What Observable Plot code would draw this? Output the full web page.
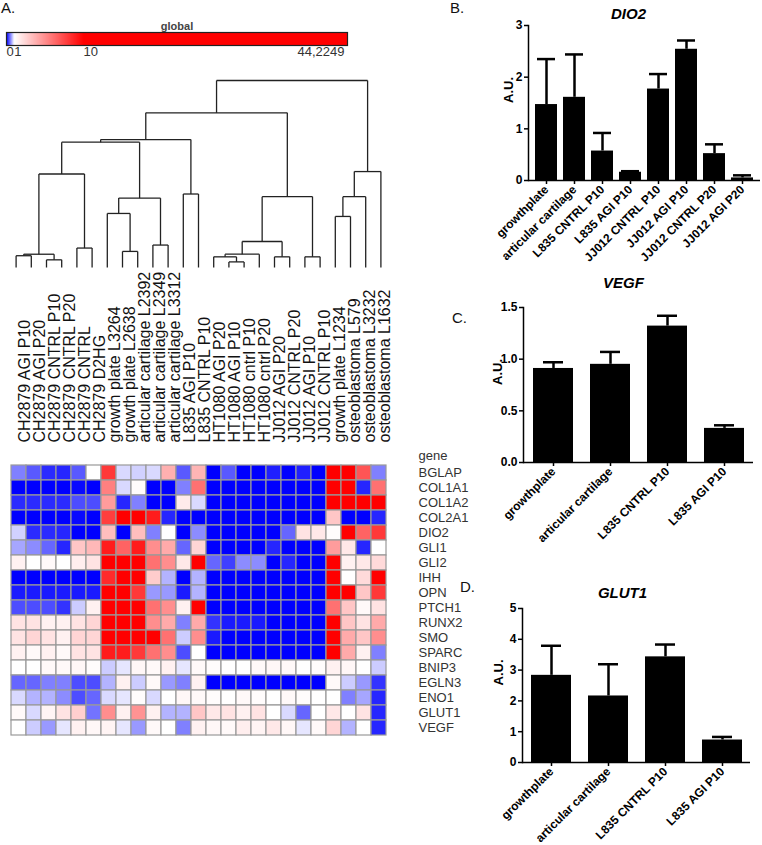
<!DOCTYPE html>
<html><head><meta charset="utf-8">
<script src="https://cdn.jsdelivr.net/npm/d3@7"></script>
<script src="https://cdn.jsdelivr.net/npm/@observablehq/plot@0.6"></script>
<style>
body{margin:0;background:#fff;}
#root{position:relative;width:762px;height:845px;overflow:hidden;font-family:"Liberation Sans",Arial,sans-serif;background:#fff;}
.abs{position:absolute;}
.letter{font-size:15px;color:#111;line-height:18px;}
</style></head><body><div id="root"></div>
<script>
// ---------- DATA ----------
const colorStops = [0, 1, 10, 44.2249];
const colorRange = ["#0000ff", "#ffffff", "#ff0000", "#ff0000"];
const colorTickVals = [0, 1, 10, 44.2249];
const colorTickText = ["0", "1", "10", "44,2249"];

const samples = ["CH2879 AGI P10","CH2879 AGI P20","CH2879 CNTRL P10","CH2879 CNTRL P20","CH2879 CNTRL","CH2879 D2HG",
  "growth plate L3264","growth plate L2638","articular cartilage L2392","articular cartilage L2349","articular cartilage L3312",
  "L835 AGI P10","L835 CNTRL P10","HT1080 AGI P20","HT1080 AGI P10","HT1080 cntrl P10","HT1080 cntrl P20",
  "JJ012 AGI P20","JJ012 CNTRL P20","JJ012 AGI P10","JJ012 CNTRL P10","growth plate L1234",
  "osteoblastoma L579","osteoblastoma L3232","osteoblastoma L1632"];
const genes = ["BGLAP","COL1A1","COL1A2","COL2A1","DIO2","GLI1","GLI2","IHH","OPN","PTCH1","RUNX2","SMO","SPARC","BNIP3","EGLN3","ENO1","GLUT1","VEGF"];

// expression per gene (rows) across samples (columns)
const heatValues = [
  [0.5,0.35,0.17,0.15,0.35,1, 8,0.85,0.82,0.85,3.8,0.35,3.6, 0,0.35,0,0,0.12,0,0.12,0, 10,10,7,0.5],
  [0,0,0,0,0.03,0, 5.5,0.85,1.15,0,0,0.5,6, 0,0,0,0,0,0,0,0, 10,10,0.15,6],
  [0.17,0.17,0.17,0.17,0.3,0.3, 4.5,0.15,0.5,0,0,1.7,0.85, 0,0,0,0,0,0,0,0, 10,10,10,10],
  [0,0,0,0,0.03,0, 7.8,10,10,9,0.15,0,0, 0,0,0,0,0,0,0,0, 3,0,0,0.15],
  [0.82,0.17,0.17,0.15,0,0, 3.3,0,3.3,0.5,1,0,0.55, 0,0,0,0,0,0.4,2,1.8, 1.1,10,6.5,8],
  [0.65,0.55,0.4,0.15,3,3.5, 9,6.5,9,5,4,0.4,2.5, 0,0,0,0,0.15,0,0,0, 4.5,1.8,0.15,1],
  [1.5,1,1.2,1,1.6,2, 10,10,10,6,5,1.8,10, 0.4,0.25,0.55,0.55,0,0.15,0,0, 10,1.5,1.8,2.3],
  [0,0,0,0,0,0, 8.5,10,10,2.8,0.7,0,0.7, 0,0,0,0,0,0,0,0, 10,1,2.3,10],
  [0.1,0.1,0.1,0.1,0.1,0.1, 10,10,8,0.6,0.6,0.1,0.7, 0,0,0,0,0,0,0,0, 10,10,3,8],
  [0.3,0.3,0.3,0.2,0.8,1.5, 10,10,10,6,5,1.5,10, 0,0,0,0,0,0,0,0, 6,3,1.2,2],
  [2,2,1.5,1.5,2,2.5, 10,10,10,5,4,0.5,4, 0.2,0.1,0.1,0.1,0,0,0,0, 10,3,2,4],
  [2,2.5,2,1.5,2.5,2.5, 10,10,10,10,6,0.8,5, 0.1,0,0,0,0,0,0,0, 10,4,3,5],
  [1.5,1.2,1.5,1.2,2,2, 9,9,8,6,5,0.3,1, 0,0,0,0,0,0,0,0, 10,4,1.5,0.5],
  [1,1,1.2,1.2,1.3,1.1, 0.8,0.9,1.3,1.2,1.5,0.9,1.2, 1.1,1,1,1.2,1.3,1.2,1,1.1, 1.5,1.3,1,0.8],
  [0.4,0.4,0.5,0.5,0.3,0.3, 0.7,1.5,0.8,1.2,0.6,0.5,1.5, 0,0,0,0,0,0,0,0, 1.2,0.8,0.6,0.2],
  [0.85,0.7,0.7,0.55,0.3,0.4, 0.85,0.9,1.1,0.85,1,1.3,1.2, 1.1,1,1.2,1.1,1,1.2,1.1,1, 1,0.5,0.65,0.15],
  [1.2,0.85,1.4,2,2.7,0.45, 5,1.5,4.8,1.5,0.7,0.7,3, 1.8,2,1.5,2,1,0.85,0.4,1, 1.8,1,2,0.15],
  [1,0.8,0.6,0.9,1.5,1.3, 1.4,0.9,0.6,1.2,1,0.5,1.5, 1.3,1.2,1.6,1.4,1.8,1.3,0.9,1.2, 2.5,0.7,1,0.15]
];

// dendrogram (R hclust style: negative = leaf index 1-based, positive = earlier merge)
const dendroMerges = [[-1,-2],[-3,-4],[1,2],[-5,-6],[3,4],[-8,-9],[-7,6],[-10,-11],[7,8],[5,9],[-12,-13],[10,11],
  [-15,-16],[-14,13],[14,-17],[-18,-19],[15,16],[-20,-21],[17,18],[12,19],[-22,-23],[21,-24],[22,-25],[20,23]];
const dendroHeights = [6.3,4.1,7.1,10.4,50,8.6,28.9,12,37.1,67,39.3,68.4,3.0,5.7,7.1,5.7,13.9,5.7,37.9,82.7,27.3,37.9,51.3,100];

const dio2Labels = ["growthplate","articular cartilage","L835 CNTRL P10","L835 AGI P10","JJ012 CNTRL P10","JJ012 AGI P10","JJ012 CNTRL P20","JJ012 AGI P20"];
const dio2Mean = [1.47,1.61,0.57,0.16,1.77,2.54,0.52,0.05];
const dio2Err  = [2.35,2.44,0.92,0.18,2.06,2.71,0.70,0.10];

const vegfLabels = ["growthplate","articular cartilage","L835 CNTRL P10","L835 AGI P10"];
const vegfMean = [0.91,0.95,1.32,0.33];
const vegfErr  = [0.97,1.07,1.42,0.36];

const glut1Labels = ["growthplate","articular cartilage","L835 CNTRL P10","L835 AGI P10"];
const glut1Mean = [2.83,2.16,3.43,0.73];
const glut1Err  = [3.79,3.19,3.83,0.83];

// ---------- HELPERS ----------
const root = document.getElementById("root");
const FONT = '"Liberation Sans", Arial, sans-serif';
function place(node, left, top) {
  const d = document.createElement("div");
  d.className = "abs"; d.style.left = left + "px"; d.style.top = top + "px";
  d.appendChild(node); root.appendChild(d); return d;
}
function letter(txt, left, top) {
  const d = document.createElement("div");
  d.className = "abs letter"; d.style.left = left + "px"; d.style.top = top + "px";
  d.textContent = txt; root.appendChild(d);
}
const colorScale = {type: "linear", domain: colorStops, range: colorRange, interpolate: "rgb", clamp: true};

// ---------- PANEL A: colour bar ----------
letter("A.", 1, -1);
const cmax = colorStops[colorStops.length - 1];
const cbTicks = colorTickVals.map((v, i) => ({v, t: colorTickText[i]}));
place(Plot.plot({
  width: 360, height: 70, marginTop: 32, marginBottom: 25, marginLeft: 6, marginRight: 13,
  style: {fontFamily: FONT, background: "transparent"},
  x: {domain: [0, cmax], axis: null},
  y: {domain: [0, 1], axis: null},
  color: colorScale,
  marks: [
    Plot.raster({x1: 0, x2: cmax, y1: 0, y2: 1, fill: (x, y) => x, pixelSize: 1}),
    Plot.frame({stroke: "#222", strokeWidth: 1.2}),
    Plot.text(cbTicks.slice(0, 3), {x: "v", text: "t", frameAnchor: "bottom", dy: 10, textAnchor: "start", fontSize: 13, fill: "#333"}),
    Plot.text(cbTicks.slice(3), {x: "v", text: "t", frameAnchor: "bottom", dy: 10, textAnchor: "end", dx: -3, fontSize: 13, fill: "#333"}),
    Plot.text(["global"], {frameAnchor: "top", dy: -10, fontSize: 11, fontWeight: "bold", fill: "#444", letterSpacing: "1.5px"})
  ]
}), 0, 0);

// ---------- PANEL A: dendrogram ----------
const nodeX = [], nodeH = [];
const pos = id => id < 0 ? {x: -id - 1, h: 0} : {x: nodeX[id - 1], h: nodeH[id - 1]};
const segs = [];
dendroMerges.forEach(([a, b], i) => {
  const h = dendroHeights[i], A = pos(a), B = pos(b);
  nodeX[i] = (A.x + B.x) / 2; nodeH[i] = h;
  segs.push({x1: A.x, y1: A.h, x2: A.x, y2: h});
  segs.push({x1: B.x, y1: B.h, x2: B.x, y2: h});
  segs.push({x1: A.x, y1: h, x2: B.x, y2: h});
});
place(Plot.plot({
  width: 400, height: 280, marginTop: 80, marginBottom: 13, marginLeft: 8, marginRight: 12,
  style: {background: "transparent"},
  x: {domain: [-0.5, samples.length - 0.5], axis: null},
  y: {domain: [0, 100], axis: null},
  marks: [Plot.link(segs, {x1: "x1", y1: "y1", x2: "x2", y2: "y2", stroke: "#222", strokeWidth: 1.3})]
}), 0, 0);

// ---------- PANEL A: heatmap ----------
const cells = [];
genes.forEach((g, r) => samples.forEach((s, c) => cells.push({gene: g, sample: s, v: heatValues[r][c]})));
place(Plot.plot({
  width: 480, height: 480, marginTop: 203, marginBottom: 3, marginLeft: 8, marginRight: 92,
  style: {fontFamily: FONT, background: "transparent"},
  x: {domain: samples, padding: 0, axis: null},
  y: {domain: genes, padding: 0, axis: null},
  color: colorScale,
  marks: [
    Plot.cell(cells, {x: "sample", y: "gene", fill: "v", stroke: "#999", strokeWidth: 1.2, inset: 0}),
    Plot.text(samples, {x: d => d, frameAnchor: "top", dy: -21, rotate: -90, textAnchor: "start", fontSize: 16, fill: "#111"}),
    Plot.text(genes, {y: d => d, frameAnchor: "right", dx: 30, textAnchor: "start", fontSize: 13, fill: "#333"}),
    Plot.text(["gene"], {frameAnchor: "top-right", dx: 30, dy: -13, textAnchor: "start", fontSize: 13, fill: "#333"})
  ]
}), 0, 260);

// ---------- BAR CHARTS ----------
function barChart({labels, mean, err, title, yDomain, yTicks, fmt, width, height, mt, mb, ml, mr, pi, po, capInset, titleDx, titleDy, auDx}) {
  const data = labels.map((name, i) => ({name, v: mean[i], e: err[i]}));
  return Plot.plot({
    width, height, marginTop: mt, marginBottom: mb, marginLeft: ml, marginRight: mr,
    style: {fontFamily: FONT, background: "transparent", color: "#000", overflow: "visible"},
    x: {domain: labels, paddingInner: pi, paddingOuter: po, label: null},
    y: {domain: yDomain, label: null},
    marks: [
      Plot.ruleX(data, {x: "name", y1: "v", y2: "e", stroke: "#000", strokeWidth: 2.5}),
      Plot.tickY(data, {x: "name", y: "e", stroke: "#000", strokeWidth: 2.5, inset: capInset}),
      Plot.barY(data, {x: "name", y: "v", fill: "#000"}),
      Plot.axisY({ticks: yTicks, tickFormat: fmt, tickSize: 4, tickPadding: 2, fontSize: 12, fontWeight: "bold", strokeWidth: 1.5, label: null}),
      Plot.axisX({tickSize: 4, tickPadding: 3, tickRotate: -45, fontSize: 12, fontWeight: "bold", strokeWidth: 1.5, label: null}),
      Plot.ruleY([0], {stroke: "#000", strokeWidth: 1.5}),
      Plot.frame({anchor: "left", stroke: "#000", strokeWidth: 1.5}),
      Plot.text(["A.U."], {frameAnchor: "left", dx: auDx, rotate: -90, fontSize: 13, fontWeight: "bold"}),
      Plot.text([title], {frameAnchor: "top", dx: titleDx, dy: titleDy, fontSize: 15, fontWeight: "bold", fontStyle: "italic"})
    ]
  });
}

letter("B.", 450, -1);
place(barChart({labels: dio2Labels, mean: dio2Mean, err: dio2Err, title: "DIO2", yDomain: [0, 3], yTicks: [0, 1, 2, 3], fmt: d3.format("d"),
  width: 367, height: 270, mt: 25, mb: 90, ml: 133, mr: 2, pi: 0.22, po: 0.25, capInset: 2, titleDx: -16, titleDy: -17, auDx: -20}), 395, 0);

letter("C.", 452, 309);
place(barChart({labels: vegfLabels, mean: vegfMean, err: vegfErr, title: "VEGF", yDomain: [0, 1.5], yTicks: [0, 0.5, 1, 1.5], fmt: d3.format(".1f"),
  width: 367, height: 305, mt: 52, mb: 98, ml: 128, mr: 9, pi: 0.30, po: 0.16, capInset: 10, titleDx: -15, titleDy: -30, auDx: -26}), 395, 255);

letter("D.", 460, 578);
place(barChart({labels: glut1Labels, mean: glut1Mean, err: glut1Err, title: "GLUT1", yDomain: [0, 5], yTicks: [0, 1, 2, 3, 4, 5], fmt: d3.format("d"),
  width: 367, height: 285, mt: 48, mb: 83, ml: 127, mr: 12, pi: 0.30, po: 0.14, capInset: 10, titleDx: -14, titleDy: -21, auDx: -24}), 395, 560);
</script></body></html>
